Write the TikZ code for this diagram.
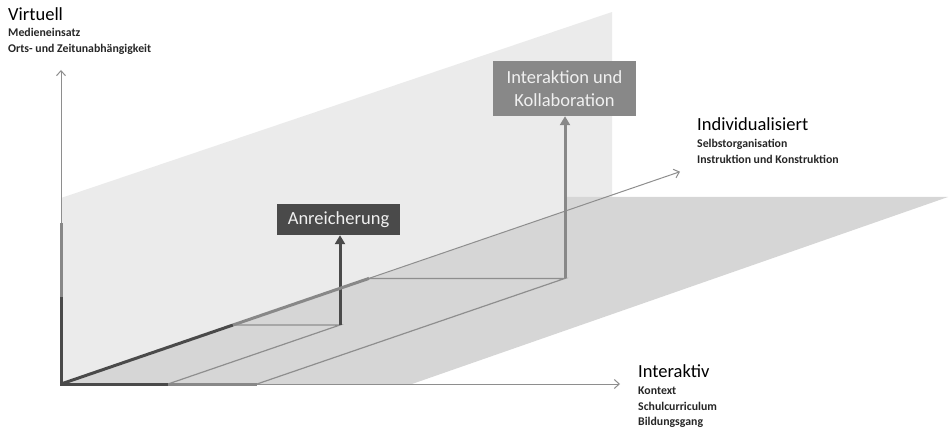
\documentclass[tikz,border=0pt]{standalone}
\usepackage{fontspec}
\setmainfont{Carlito}
\usetikzlibrary{arrows.meta}
\definecolor{wandhell}{HTML}{EBEBEB}
\definecolor{bodengrau}{HTML}{D6D6D6}
\definecolor{dunkel}{HTML}{4A4A4A}
\definecolor{mittel}{HTML}{888888}
\definecolor{linie}{HTML}{8E8E8E}
\tikzset{
  achse/.style={draw=linie, line width=1pt, -{Straight Barb[length=5pt,width=9pt]}},
  dick/.style={line width=3pt},
  kasten/.style={fill=#1, text=white!94!black, inner sep=0pt, align=center, font=\fontsize{18.5}{22.7}\selectfont},
  titel/.style={anchor=base west, inner sep=0pt, font=\fontsize{18.5}{20}\selectfont},
  unter/.style={anchor=base west, inner sep=0pt, text=black!85, font=\fontsize{11.8}{14}\selectfont\bfseries},
}
\begin{document}
\begin{tikzpicture}[x=1pt,y=-1pt]
\useasboundingbox (0,0) rectangle (949,430);

\fill[wandhell] (61,384) -- (61,198) -- (612,12) -- (612,197) -- cycle;
\fill[bodengrau] (61,384) -- (412,384) -- (948,197) -- (565,197) -- (565,211) -- cycle;

\coordinate (o) at (61,384);
\coordinate (vd) at (61,297);
\coordinate (vm) at (61,223);
\coordinate (vt) at (61,70);
\coordinate (hd) at (168,384);
\coordinate (hm) at (257,384);
\coordinate (ht) at (620,384);
\coordinate (dd) at (233,325);
\coordinate (dm) at (369,278.4);
\coordinate (dt) at (680,171.7);
\coordinate (p1) at (340,325);
\coordinate (p2) at (565,278.4);

\draw[achse] (o) -- (vt);
\draw[achse] (o) -- (ht);
\draw[achse] (o) -- (dt);

\draw[linie, line width=1.2pt] (hd) -- (p1) -- (dd);
\draw[linie, line width=1.2pt] (hm) -- (p2) -- (dm);

%-------------------------------------
\node[kasten=dunkel, minimum width=123pt, minimum height=31pt] (anr) at (338.5,219.5) {Anreicherung};
\node[kasten=mittel, minimum width=143pt, minimum height=55pt] (koll) at (564.5,88.5) {Interaktion und\\Kollaboration};

\draw[dick, dunkel, -{Triangle[length=9pt,width=10pt]}] (p1) -- (p1 |- anr.south);
\draw[dick, mittel, -{Triangle[length=9pt,width=10pt]}] (p2) -- (p2 |- koll.south);

\draw[dick, dunkel] (vd) -- (o) -- (hd);
\draw[dick, dunkel] (o) -- (dd);
\draw[dick, mittel] (vd) -- (vm);
\draw[dick, mittel] (hd) -- (hm);
\draw[dick, mittel] (dd) -- (dm);

%-------------------------------------
\node[titel] (virt) at (8,20.7) {Virtuell};
\node[unter] (virt1) at (8,36.7) {Medieneinsatz};
\node[unter] (virt2) at (8,52.3) {Orts- und Zeitunabhängigkeit};

\node[titel] (indi) at (697,131) {Individualisiert};
\node[unter] (indi1) at (697,147.7) {Selbstorganisation};
\node[unter] (indi2) at (697,163.3) {Instruktion und Konstruktion};

\node[titel] (inter) at (638,377.7) {Interaktiv};
\node[unter] (inter1) at (638,394.3) {Kontext};
\node[unter] (inter2) at (638,410) {Schulcurriculum};
\node[unter] (inter3) at (638,425) {Bildungsgang};
\end{tikzpicture}
\end{document}
